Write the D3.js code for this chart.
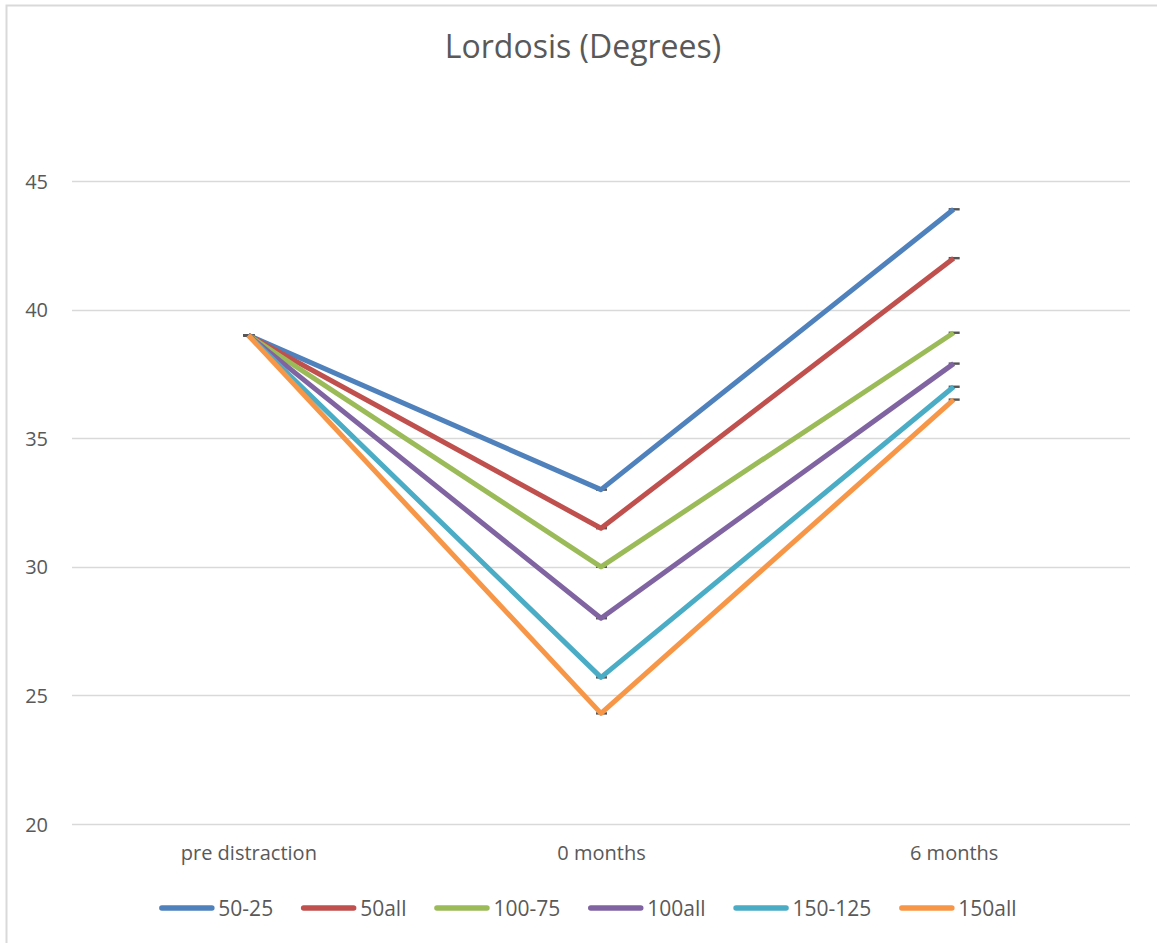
<!DOCTYPE html>
<html>
<head>
<meta charset="utf-8">
<script src="https://cdn.jsdelivr.net/npm/d3@7"></script>
<style>
  html, body { margin: 0; padding: 0; background: #fff; }
  svg { display: block; }
  text { font-family: "Open Sans", "Noto Sans", sans-serif; fill: #595959; }
</style>
</head>
<body>
<svg id="chart" width="1157" height="943"></svg>
<script>
// Lordosis angle (degrees) at three time points for each distraction group
const categories = ["pre distraction", "0 months", "6 months"];
const seriesNames = ["50-25", "50all", "100-75", "100all", "150-125", "150all"];
const values_50_25   = [39, 33.0, 43.9];
const values_50all   = [39, 31.5, 42.0];
const values_100_75  = [39, 30.0, 39.1];
const values_100all  = [39, 28.0, 37.9];
const values_150_125 = [39, 25.7, 37.0];
const values_150all  = [39, 24.3, 36.5];
const yTicks = [20, 25, 30, 35, 40, 45];
const titleText = "Lordosis (Degrees)";

const seriesValues = [values_50_25, values_50all, values_100_75, values_100all, values_150_125, values_150all];
const colors = ["#4F81BD", "#C0504D", "#9BBB59", "#8064A2", "#4BACC6", "#F79646"];

const svg = d3.select("#chart");

// chart area outline (only the top and left edges fall inside the page)
svg.append("rect")
  .attr("x", 6.5).attr("y", 5.5)
  .attr("width", 1160).attr("height", 960)
  .attr("fill", "none").attr("stroke", "#d9d9d9").attr("stroke-width", 2);

const plot = { left: 72, right: 1130, top: 181, bottom: 824 };

const x = d3.scalePoint()
  .domain(categories)
  .range([plot.left, plot.right])
  .padding(0.5);

const y = d3.scaleLinear()
  .domain([20, 45])
  .range([plot.bottom, plot.top]);

// title
svg.append("text")
  .attr("x", 583).attr("y", 58)
  .attr("text-anchor", "middle")
  .style("font-size", "32px")
  .text(titleText);

// horizontal gridlines
svg.append("g").selectAll("line")
  .data(yTicks)
  .join("line")
  .attr("x1", plot.left).attr("x2", plot.right)
  .attr("y1", d => Math.round(y(d)) + 0.5).attr("y2", d => Math.round(y(d)) + 0.5)
  .attr("stroke", "#d9d9d9").attr("stroke-width", 1.3);

// y axis labels
const yAxis = d3.axisLeft(y).tickValues(yTicks).tickSize(0).tickPadding(0);
const yg = svg.append("g").attr("transform", "translate(48,0)").call(yAxis);
yg.select(".domain").remove();
yg.selectAll("text")
  .style("font-size", "20px")
  .style("font-family", "'Open Sans', sans-serif")
  .attr("fill", "#595959")
  .attr("dy", "0.35em");

// category labels
const xAxis = d3.axisBottom(x).tickSize(0).tickPadding(0);
const xg = svg.append("g").attr("transform", "translate(0,846)").call(xAxis);
xg.select(".domain").remove();
xg.selectAll("text")
  .style("font-size", "20px")
  .style("font-family", "'Open Sans', sans-serif")
  .attr("fill", "#595959")
  .attr("dy", "0.71em");

const line = d3.line()
  .x((d, i) => x(categories[i]))
  .y(d => y(d));

// small dash markers at every data point
seriesValues.forEach((vals) => {
  svg.append("g").selectAll("rect")
    .data(vals)
    .join("rect")
    .attr("x", (d, i) => x(categories[i]) - 5)
    .attr("y", d => y(d) - 1.2)
    .attr("width", 11).attr("height", 2.4)
    .attr("fill", "#555");
});

// series lines, drawn in order so the last series sits on top
seriesValues.forEach((vals, k) => {
  svg.append("path")
    .datum(vals)
    .attr("d", line)
    .attr("fill", "none")
    .attr("stroke", colors[k])
    .attr("stroke-width", 5)
    .attr("stroke-linejoin", "round")
    .attr("stroke-linecap", "butt");
});

// legend
const legend = svg.append("g");
const swatchLen = 55, swatchGap = 4, itemGap = 28, legendY = 908;
const items = seriesNames.map((name, k) => {
  const g = legend.append("g");
  g.append("line")
    .attr("x1", 2.5).attr("x2", swatchLen - 2.5)
    .attr("y1", legendY).attr("y2", legendY)
    .attr("stroke", colors[k]).attr("stroke-width", 5.5)
    .attr("stroke-linecap", "round");
  const t = g.append("text")
    .attr("x", swatchLen + swatchGap)
    .attr("y", legendY + 8)
    .style("font-size", "21px")
    .text(name);
  return { g, w: swatchLen + swatchGap + t.node().getComputedTextLength() };
});
const total = d3.sum(items, d => d.w) + itemGap * (items.length - 1);
let cx = 588 - total / 2;
items.forEach(it => {
  it.g.attr("transform", `translate(${cx},0)`);
  cx += it.w + itemGap;
});
</script>
</body>
</html>
